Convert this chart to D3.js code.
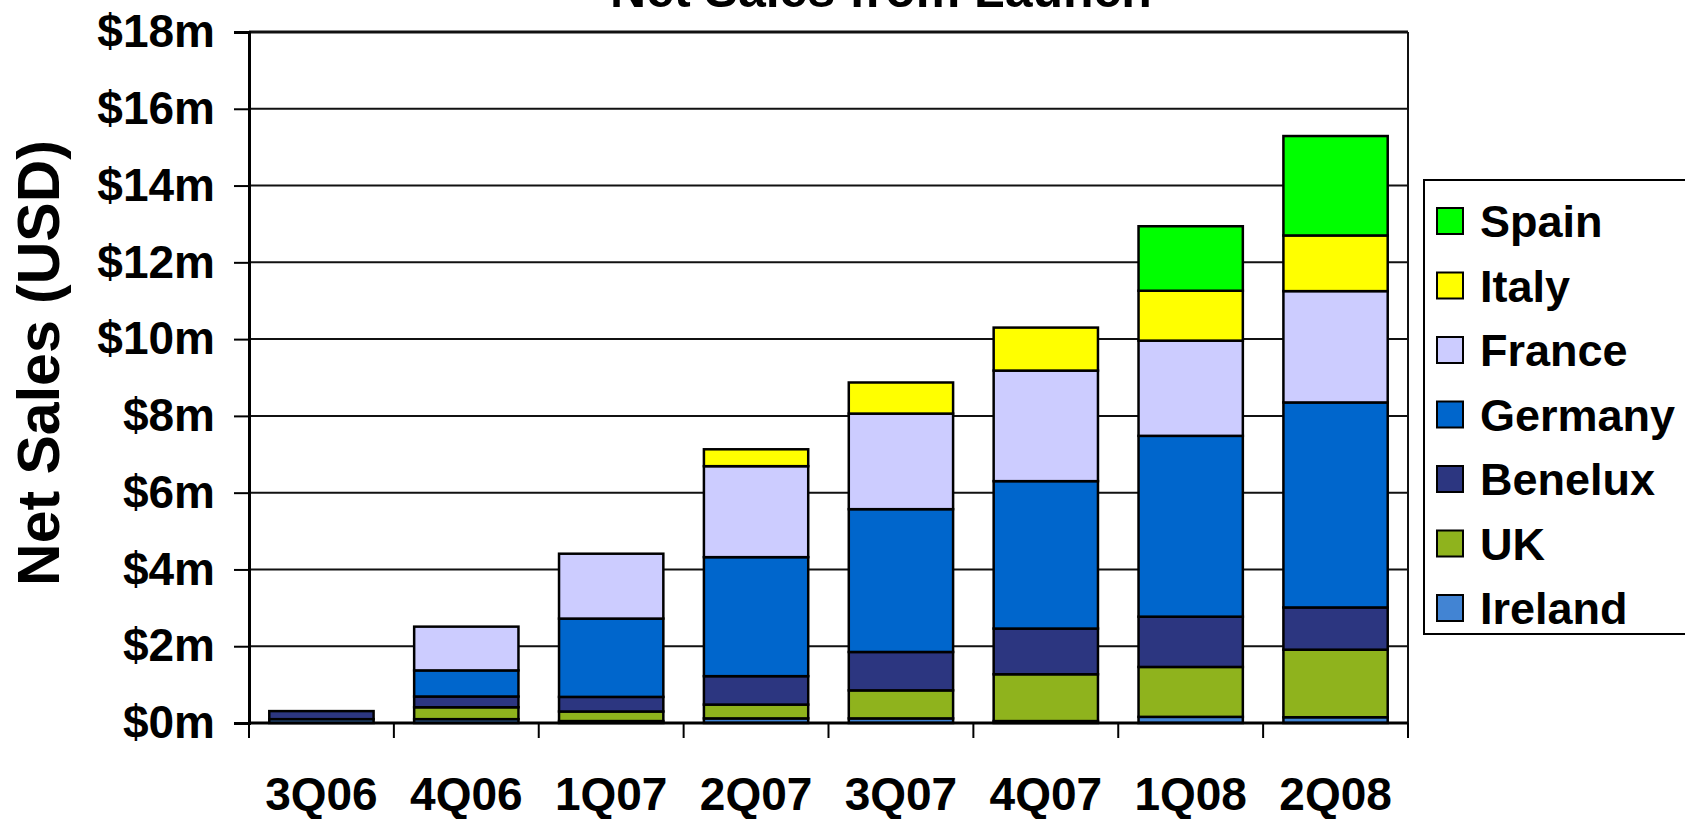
<!DOCTYPE html>
<html>
<head>
<meta charset="utf-8">
<script src="https://cdn.jsdelivr.net/npm/d3@7"></script>
<style>
  html, body { margin: 0; padding: 0; background: #fff; overflow: hidden; }
  svg { display: block; font-family: "Liberation Sans", Arial, sans-serif; font-weight: bold; }
</style>
</head>
<body>
<svg id="chart" width="1685" height="819"></svg>
<script>
// Quarterly net sales by country, in millions of USD
const quarters = ["3Q06", "4Q06", "1Q07", "2Q07", "3Q07", "4Q07", "1Q08", "2Q08"];
const countries = ["Ireland", "UK", "Benelux", "Germany", "France", "Italy", "Spain"];
const ireland = [0.10, 0.10, 0.05, 0.12, 0.12, 0.05, 0.16, 0.15];
const uk      = [0.00, 0.31, 0.25, 0.36, 0.73, 1.22, 1.30, 1.76];
const benelux = [0.21, 0.28, 0.38, 0.74, 1.00, 1.19, 1.31, 1.10];
const germany = [0.00, 0.68, 2.04, 3.10, 3.72, 3.84, 4.71, 5.34];
const france  = [0.00, 1.14, 1.69, 2.37, 2.49, 2.88, 2.48, 2.90];
const italy   = [0.00, 0.00, 0.00, 0.44, 0.81, 1.12, 1.30, 1.45];
const spain   = [0.00, 0.00, 0.00, 0.00, 0.00, 0.00, 1.68, 2.59];
const colors = ["#4284D3", "#8FB31D", "#2C3680", "#0066CC", "#CCCCFF", "#FFFF00", "#00FF00"];
const yTicks = [0, 2, 4, 6, 8, 10, 12, 14, 16, 18];
const legendOrder = ["Spain", "Italy", "France", "Germany", "Benelux", "UK", "Ireland"];

const seriesValues = [ireland, uk, benelux, germany, france, italy, spain];
const rows = quarters.map((q, i) => {
  const r = { quarter: q };
  countries.forEach((c, k) => { r[c] = seriesValues[k][i]; });
  return r;
});

const svg = d3.select("#chart");
const plot = { left: 249, right: 1408, top: 32, bottom: 723 };

const x = d3.scaleBand().domain(quarters).range([plot.left, plot.right]).paddingInner(0.28).paddingOuter(0.14);
const y = d3.scaleLinear().domain([0, 18]).range([plot.bottom, plot.top]);
const color = d3.scaleOrdinal().domain(countries).range(colors);

// Title (sits partly above the top edge)
svg.append("text")
  .attr("x", 881).attr("y", 7)
  .attr("text-anchor", "middle")
  .style("font-size", "50px")
  .text("Net Sales from Launch");

// Horizontal gridlines
svg.append("g")
  .selectAll("line")
  .data(yTicks)
  .join("line")
  .attr("x1", plot.left).attr("x2", plot.right)
  .attr("y1", d => y(d)).attr("y2", d => y(d))
  .attr("stroke", "#111")
  .attr("stroke-width", d => d === 18 ? 3 : 2);

// Right border of the plot area
svg.append("line")
  .attr("x1", plot.right).attr("x2", plot.right)
  .attr("y1", plot.top).attr("y2", plot.bottom)
  .attr("stroke", "#111").attr("stroke-width", 2);

// Stacked bars
const stacked = d3.stack().keys(countries)(rows);
svg.append("g")
  .selectAll("g")
  .data(stacked)
  .join("g")
  .attr("fill", d => color(d.key))
  .selectAll("rect")
  .data(d => d.filter(s => s[1] - s[0] > 0))
  .join("rect")
  .attr("x", d => x(d.data.quarter))
  .attr("width", x.bandwidth())
  .attr("y", d => y(d[1]))
  .attr("height", d => y(d[0]) - y(d[1]))
  .attr("stroke", "#000")
  .attr("stroke-width", 2.5);

// Y axis
const yAxis = svg.append("g")
  .attr("transform", `translate(${plot.left},0)`)
  .call(d3.axisLeft(y).tickValues(yTicks).tickSize(15).tickPadding(19).tickFormat(d => `$${d}m`));
yAxis.select(".domain").attr("stroke", "#000").attr("stroke-width", 3);
yAxis.selectAll(".tick line").attr("stroke", "#000").attr("stroke-width", 2);
yAxis.selectAll(".tick text")
  .attr("fill", "#000")
  .style("font-size", "46px")
  .style("font-family", "'Liberation Sans', Arial, sans-serif")
  .style("font-weight", "bold");

// X axis: ticks at band boundaries, labels centred under bars
const xAxisG = svg.append("g");
const boundaries = d3.range(quarters.length + 1).map(i => plot.left + i * (plot.right - plot.left) / quarters.length);
xAxisG.append("line")
  .attr("x1", plot.left).attr("x2", plot.right)
  .attr("y1", plot.bottom).attr("y2", plot.bottom)
  .attr("stroke", "#000").attr("stroke-width", 3);
xAxisG.selectAll("line.tick")
  .data(boundaries)
  .join("line")
  .attr("class", "tick")
  .attr("x1", d => d).attr("x2", d => d)
  .attr("y1", plot.bottom).attr("y2", plot.bottom + 15)
  .attr("stroke", "#000").attr("stroke-width", 2);
xAxisG.selectAll("text")
  .data(quarters)
  .join("text")
  .attr("x", d => x(d) + x.bandwidth() / 2)
  .attr("y", 810)
  .attr("text-anchor", "middle")
  .style("font-size", "46px")
  .text(d => d);

// Y axis title
svg.append("text")
  .attr("transform", "translate(59,363) rotate(-90)")
  .attr("text-anchor", "middle")
  .style("font-size", "59px")
  .text("Net Sales (USD)");

// Legend
const legend = svg.append("g");
legend.append("rect")
  .attr("x", 1424).attr("y", 180)
  .attr("width", 300).attr("height", 454)
  .attr("fill", "#fff").attr("stroke", "#000").attr("stroke-width", 2);
const items = legend.selectAll("g.item")
  .data(legendOrder)
  .join("g")
  .attr("class", "item")
  .attr("transform", (d, i) => `translate(0,${221 + i * 64.5})`);
items.append("rect")
  .attr("x", 1437).attr("y", -13)
  .attr("width", 26).attr("height", 26)
  .attr("fill", d => color(d))
  .attr("stroke", "#000").attr("stroke-width", 2);
items.append("text")
  .attr("x", 1480).attr("y", 16)
  .style("font-size", "45px")
  .text(d => d);
</script>
</body>
</html>
